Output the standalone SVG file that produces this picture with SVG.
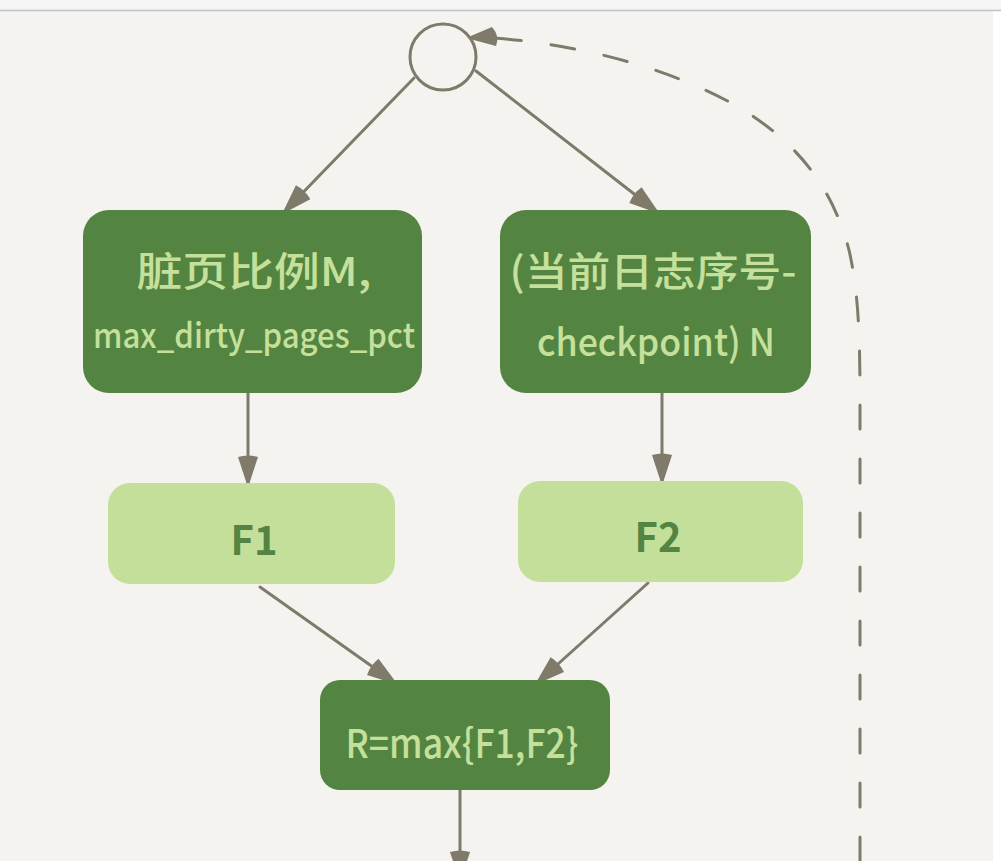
<svg xmlns="http://www.w3.org/2000/svg" width="1001" height="861" viewBox="0 0 1001 861">
  <style>
    .dark { fill: #548441; }
    .light { fill: #c3df9a; }
    .ltxt { fill: #c4e09b; font-family: "Noto Sans CJK SC", "Liberation Sans", sans-serif; font-weight: 500; }
    .dtxt { fill: #548441; font-family: "Noto Sans CJK SC", "Liberation Sans", sans-serif; font-weight: 700; }
    .conn { stroke: #7f7a6a; stroke-width: 3; fill: none; stroke-linecap: round; }
    .dash { stroke: #7f7a6a; stroke-width: 3; fill: none; stroke-dasharray: 24 30; stroke-linecap: round; }
  </style>
  <defs>
    <marker id="ah" viewBox="-30 -13 32 26" refX="0" refY="0" markerWidth="32" markerHeight="26" markerUnits="userSpaceOnUse" orient="auto">
      <path d="M -26,-10 Q -29,0 -26,10 L 0,1.5 L 0,-1.5 Z" fill="#7f7a6a"/>
    </marker>
  </defs>
  <rect x="0" y="0" width="1001" height="861" fill="#ffffff"/>
  <rect x="0" y="0" width="1001" height="10" fill="#f5f5f5"/>
  <rect x="0" y="11" width="993" height="850" fill="#f4f3ef"/>
  <line x1="0" y1="10.5" x2="1001" y2="10.5" stroke="#c2c2c0" stroke-width="1.5"/>

  <g id="connectors">
    <line class="conn" x1="414" y1="78" x2="285" y2="211" marker-end="url(#ah)"/>
    <line class="conn" x1="476" y1="71" x2="656" y2="211" marker-end="url(#ah)"/>
    <line class="conn" x1="248" y1="393" x2="248" y2="483" marker-end="url(#ah)"/>
    <line class="conn" x1="662" y1="393" x2="662" y2="481" marker-end="url(#ah)"/>
    <line class="conn" x1="260" y1="587" x2="394" y2="682" marker-end="url(#ah)"/>
    <line class="conn" x1="648" y1="583" x2="538" y2="682" marker-end="url(#ah)"/>
    <line class="conn" x1="460" y1="790" x2="460" y2="878" marker-end="url(#ah)"/>
    <path class="dash" d="M 860 861 L 860 400 C 860 330, 858 290, 849 250 C 832 185, 795 140, 735 105 C 665 66, 575 44, 494 38"/>
    <path d="M 466,38 L 492,27 Q 500,36 496,46 Z" fill="#7f7a6a"/>
  </g>

  <g id="start">
    <circle cx="443" cy="57" r="33" fill="#f4f3ef" stroke="#7f7a6a" stroke-width="3"/>
  </g>

  <g id="dirty">
    <rect class="dark" x="83" y="210" width="339" height="183" rx="26"/>
    <text class="ltxt" x="254" y="286" font-size="40" text-anchor="middle" textLength="235" lengthAdjust="spacingAndGlyphs">脏页比例M,</text>
    <text class="ltxt" x="254" y="348" font-size="35" text-anchor="middle" textLength="322" lengthAdjust="spacingAndGlyphs">max_dirty_pages_pct</text>
  </g>

  <g id="lsn">
    <rect class="dark" x="500" y="210" width="311" height="183" rx="26"/>
    <text class="ltxt" x="653" y="286" font-size="40" text-anchor="middle" textLength="287" lengthAdjust="spacingAndGlyphs">(当前日志序号-</text>
    <text class="ltxt" x="656" y="356" font-size="38" text-anchor="middle" textLength="238" lengthAdjust="spacingAndGlyphs">checkpoint) N</text>
  </g>

  <g id="f1">
    <rect class="light" x="108" y="483" width="287" height="101" rx="22"/>
    <text class="dtxt" x="254" y="555" font-size="40" text-anchor="middle">F1</text>
  </g>

  <g id="f2">
    <rect class="light" x="518" y="481" width="285" height="101" rx="22"/>
    <text class="dtxt" x="658" y="552" font-size="40" text-anchor="middle">F2</text>
  </g>

  <g id="result">
    <rect class="dark" x="320" y="680" width="290" height="110" rx="20"/>
    <text class="ltxt" x="462" y="758" font-size="40" text-anchor="middle" textLength="233" lengthAdjust="spacingAndGlyphs">R=max{F1,F2}</text>
  </g>
</svg>
